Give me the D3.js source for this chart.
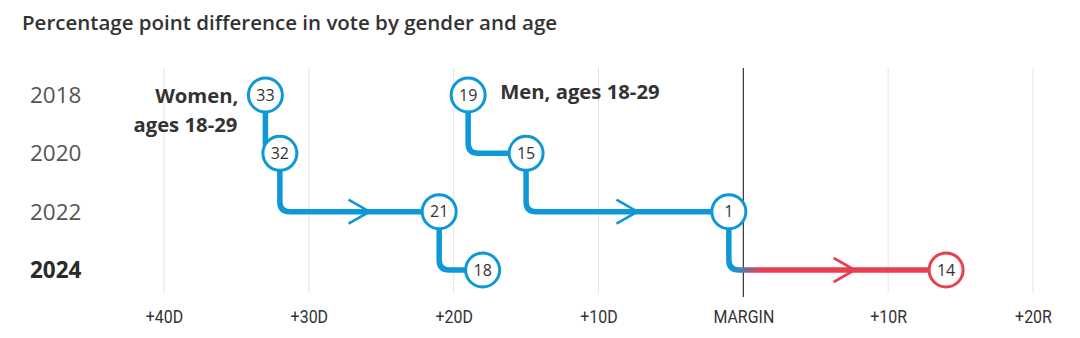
<!DOCTYPE html>
<html>
<head>
<meta charset="utf-8">
<script src="https://cdn.jsdelivr.net/npm/d3@7"></script>
<style>
  html, body { margin: 0; padding: 0; background: #fff; }
  svg { display: block; }
</style>
</head>
<body>
<svg id="chart" width="1080" height="338"></svg>
<script>
// Election years, top to bottom
const years = ["2018", "2020", "2022", "2024"];
// Margins in points: negative = Democratic lead, positive = Republican lead
const womenMargin = [-33, -32, -21, -18];
const menMargin = [-19, -15, -1, 14];
// Axis ticks and their labels
const tickValues = [-40, -30, -20, -10, 0, 10, 20];
const tickLabels = ["+40D", "+30D", "+20D", "+10D", "MARGIN", "+10R", "+20R"];

const BLUE = "#0f98d6";
const RED = "#e8404f";
const TEXT = "#333";

const svg = d3.select("#chart");

const x = d3.scaleLinear().domain([-40, 20]).range([164, 1033]);
const y = d3.scalePoint().domain(years).range([95, 270]);

// Title
svg.append("text")
  .attr("x", 22).attr("y", 30)
  .attr("font-family", "'Open Sans', sans-serif")
  .attr("font-size", 20.5).attr("font-weight", 600)
  .attr("fill", TEXT)
  .text("Percentage point difference in vote by gender and age");

// Vertical gridlines (zero line drawn dark)
svg.append("g").selectAll("line")
  .data(tickValues)
  .join("line")
  .attr("x1", d => x(d)).attr("x2", d => x(d))
  .attr("y1", 68).attr("y2", d => d === 0 ? 297 : 293)
  .attr("stroke", d => d === 0 ? "#333" : "#e2e2e2")
  .attr("stroke-width", d => d === 0 ? 1.2 : 1);

// Bottom axis labels, squeezed horizontally around each tick
const xAxis = d3.axisBottom(x)
  .tickValues(tickValues)
  .tickSize(0)
  .tickPadding(0)
  .tickFormat((d, i) => tickLabels[i]);
const axisG = svg.append("g").attr("transform", "translate(0,309.5)").call(xAxis);
axisG.select(".domain").remove();
axisG.selectAll("text")
  .attr("font-family", "Roboto, sans-serif")
  .attr("font-size", 19)
  .attr("fill", TEXT)
  .attr("transform", "scale(0.84,1)");

// Year labels
svg.append("g").selectAll("text")
  .data(years)
  .join("text")
  .attr("x", 30)
  .attr("y", d => y(d) + 8)
  .attr("font-family", "'Open Sans', sans-serif")
  .attr("font-size", 22.5)
  .attr("font-weight", d => d === "2024" ? 700 : 400)
  .attr("fill", d => d === "2024" ? "#2a2a2a" : "#555")
  .text(d => d);

// Gradient blue -> red across the zero line
const defs = svg.append("defs");
const grad = defs.append("linearGradient")
  .attr("id", "flip")
  .attr("gradientUnits", "userSpaceOnUse")
  .attr("x1", x(-0.7)).attr("x2", x(1.2))
  .attr("y1", 0).attr("y2", 0);
grad.append("stop").attr("offset", 0).attr("stop-color", BLUE);
grad.append("stop").attr("offset", 1).attr("stop-color", RED);

const R = 17;       // node radius
const CORNER = 10;  // elbow radius

function elbowPath(vals) {
  const p = d3.path();
  vals.forEach((v, i) => {
    const cx = x(v), cy = y(years[i]);
    if (i === 0) { p.moveTo(cx, cy); return; }
    const px = x(vals[i - 1]);
    const dir = cx >= px ? 1 : -1;
    p.lineTo(px, cy - CORNER);
    p.quadraticCurveTo(px, cy, px + dir * CORNER, cy);
    p.lineTo(cx, cy);
  });
  return p.toString();
}

// Direction arrows on long horizontal moves; centred on the part of the
// move that lies on the new side of the zero line
function arrows(vals) {
  const out = [];
  for (let i = 1; i < vals.length; i++) {
    const a = vals[i - 1], b = vals[i];
    if (Math.abs(b - a) >= 10) {
      const start = (a < 0) !== (b < 0) ? 0 : a;
      out.push({ v: (start + b) / 2, year: years[i], dir: b > a ? 1 : -1, side: b });
    }
  }
  return out;
}

function drawSeries(vals) {
  const g = svg.append("g");
  g.append("path")
    .attr("d", elbowPath(vals))
    .attr("fill", "none")
    .attr("stroke", "url(#flip)")
    .attr("stroke-width", 5.5)
    .attr("stroke-linejoin", "round");

  g.selectAll("path.arrow")
    .data(arrows(vals))
    .join("path")
    .attr("class", "arrow")
    .attr("d", d => {
      const tx = x(d.v) + 10 * d.dir, ty = y(d.year);
      return `M${tx - 21 * d.dir},${ty - 12}L${tx},${ty}L${tx - 21 * d.dir},${ty + 12}`;
    })
    .attr("fill", "none")
    .attr("stroke", d => d.side > 0 ? RED : BLUE)
    .attr("stroke-width", 2.6)
    .attr("stroke-linejoin", "miter");

  const nodes = g.selectAll("g.node")
    .data(vals.map((v, i) => ({ v, year: years[i] })))
    .join("g")
    .attr("class", "node")
    .attr("transform", d => `translate(${x(d.v)},${y(d.year)})`);
  nodes.append("circle")
    .attr("r", R)
    .attr("fill", "#fff")
    .attr("stroke", d => d.v > 0 ? RED : BLUE)
    .attr("stroke-width", 3);
  nodes.append("text")
    .attr("text-anchor", "middle")
    .attr("dy", 5.8)
    .attr("font-family", "'Open Sans', sans-serif")
    .attr("font-size", 16)
    .attr("fill", TEXT)
    .text(d => Math.abs(d.v));
  return g;
}

drawSeries(womenMargin);
drawSeries(menMargin);

// Series labels
const lab = svg.append("g")
  .attr("font-family", "'Open Sans', sans-serif")
  .attr("font-size", 20.3)
  .attr("font-weight", 700)
  .attr("fill", TEXT);
lab.append("text")
  .attr("x", x(womenMargin[0]) - 27).attr("y", y(years[0]) + 8)
  .attr("text-anchor", "end")
  .text("Women,");
lab.append("text")
  .attr("x", x(womenMargin[0]) - 28).attr("y", y(years[0]) + 37)
  .attr("text-anchor", "end")
  .text("ages 18-29");
lab.append("text")
  .attr("x", x(menMargin[0]) + 32).attr("y", y(years[0]) + 4)
  .text("Men, ages 18-29");
</script>
</body>
</html>
